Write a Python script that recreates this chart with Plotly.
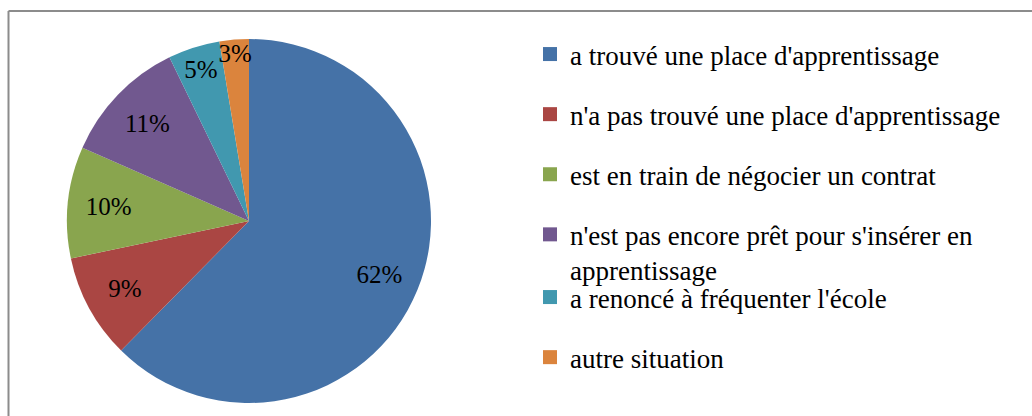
import plotly.graph_objects as go

# Data
categories = [
    "a trouvé une place d'apprentissage",
    "n'a pas trouvé une place d'apprentissage",
    "est en train de négocier un contrat",
    "n'est pas encore prêt pour s'insérer en<br>apprentissage",
    "a renoncé à fréquenter l'école",
    "autre situation",
]
values = [62.4, 9.3, 9.9, 11.2, 4.6, 2.6]
colors = ["#4572A7", "#AA4643", "#89A54E", "#71588F", "#4198AF", "#DB843D"]
legend_ids = ["legend", "legend", "legend", "legend", "legend2", "legend2"]

W, H = 1032, 416
FONT = "'Liberation Serif', 'Times New Roman', Times, serif"
DOMAIN = dict(x=[67 / W, 431 / W], y=[13 / H, 377 / H])

fig = go.Figure()
# coloured slices
fig.add_trace(go.Pie(
    labels=categories,
    values=values,
    sort=False,
    direction="clockwise",
    rotation=0,
    marker=dict(colors=colors, line=dict(width=0)),
    textinfo="none",
    showlegend=False,
    hoverinfo="label+percent",
    domain=DOMAIN,
))
# transparent ring carrying the percentage labels (places them near the rim)
fig.add_trace(go.Pie(
    labels=categories,
    values=values,
    sort=False,
    direction="clockwise",
    rotation=0,
    hole=0.55,
    marker=dict(colors=["rgba(0,0,0,0)"] * len(values), line=dict(width=0)),
    texttemplate="%{percent:.0%}",
    textposition="inside",
    insidetextorientation="horizontal",
    textfont=dict(family=FONT, size=25, color="black"),
    showlegend=False,
    hoverinfo="skip",
    domain=DOMAIN,
))

# legend entries (one per category)
for i, (c, col, lg) in enumerate(zip(categories, colors, legend_ids)):
    fig.add_trace(go.Scatter(
        x=[None], y=[None], name=c, mode="markers",
        marker=dict(color=col, symbol="square", size=14),
        legendgroup=f"g{i}", legend=lg, showlegend=True,
        hoverinfo="skip",
    ))

fig.update_layout(
    width=W, height=H,
    margin=dict(l=0, r=0, t=0, b=0),
    paper_bgcolor="white",
    plot_bgcolor="rgba(0,0,0,0)",
    font=dict(family=FONT),
    xaxis=dict(visible=False),
    yaxis=dict(visible=False),
    uniformtext=dict(mode="show", minsize=25),
    legend=dict(
        x=530 / W, xanchor="left", y=1 - 30 / H, yanchor="top",
        font=dict(family=FONT, size=27, color="black"),
        tracegroupgap=22, valign="top", bgcolor="rgba(0,0,0,0)",
    ),
    legend2=dict(
        x=530 / W, xanchor="left", y=1 - 273 / H, yanchor="top",
        font=dict(family=FONT, size=27, color="black"),
        tracegroupgap=22, valign="top", bgcolor="rgba(0,0,0,0)",
    ),
    shapes=[
        dict(type="line", xref="paper", yref="paper",
             x0=8.5 / W, x1=1.0, y0=1 - 11 / H, y1=1 - 11 / H,
             line=dict(color="#8c8c8c", width=2)),
        dict(type="line", xref="paper", yref="paper",
             x0=8.5 / W, x1=8.5 / W, y0=1 - 11 / H, y1=0,
             line=dict(color="#8c8c8c", width=2)),
    ],
)

fig.write_html(
    "out.html",
    config={"displayModeBar": False},
    post_script="document.body.style.margin='0';document.body.style.overflow='hidden';",
)
